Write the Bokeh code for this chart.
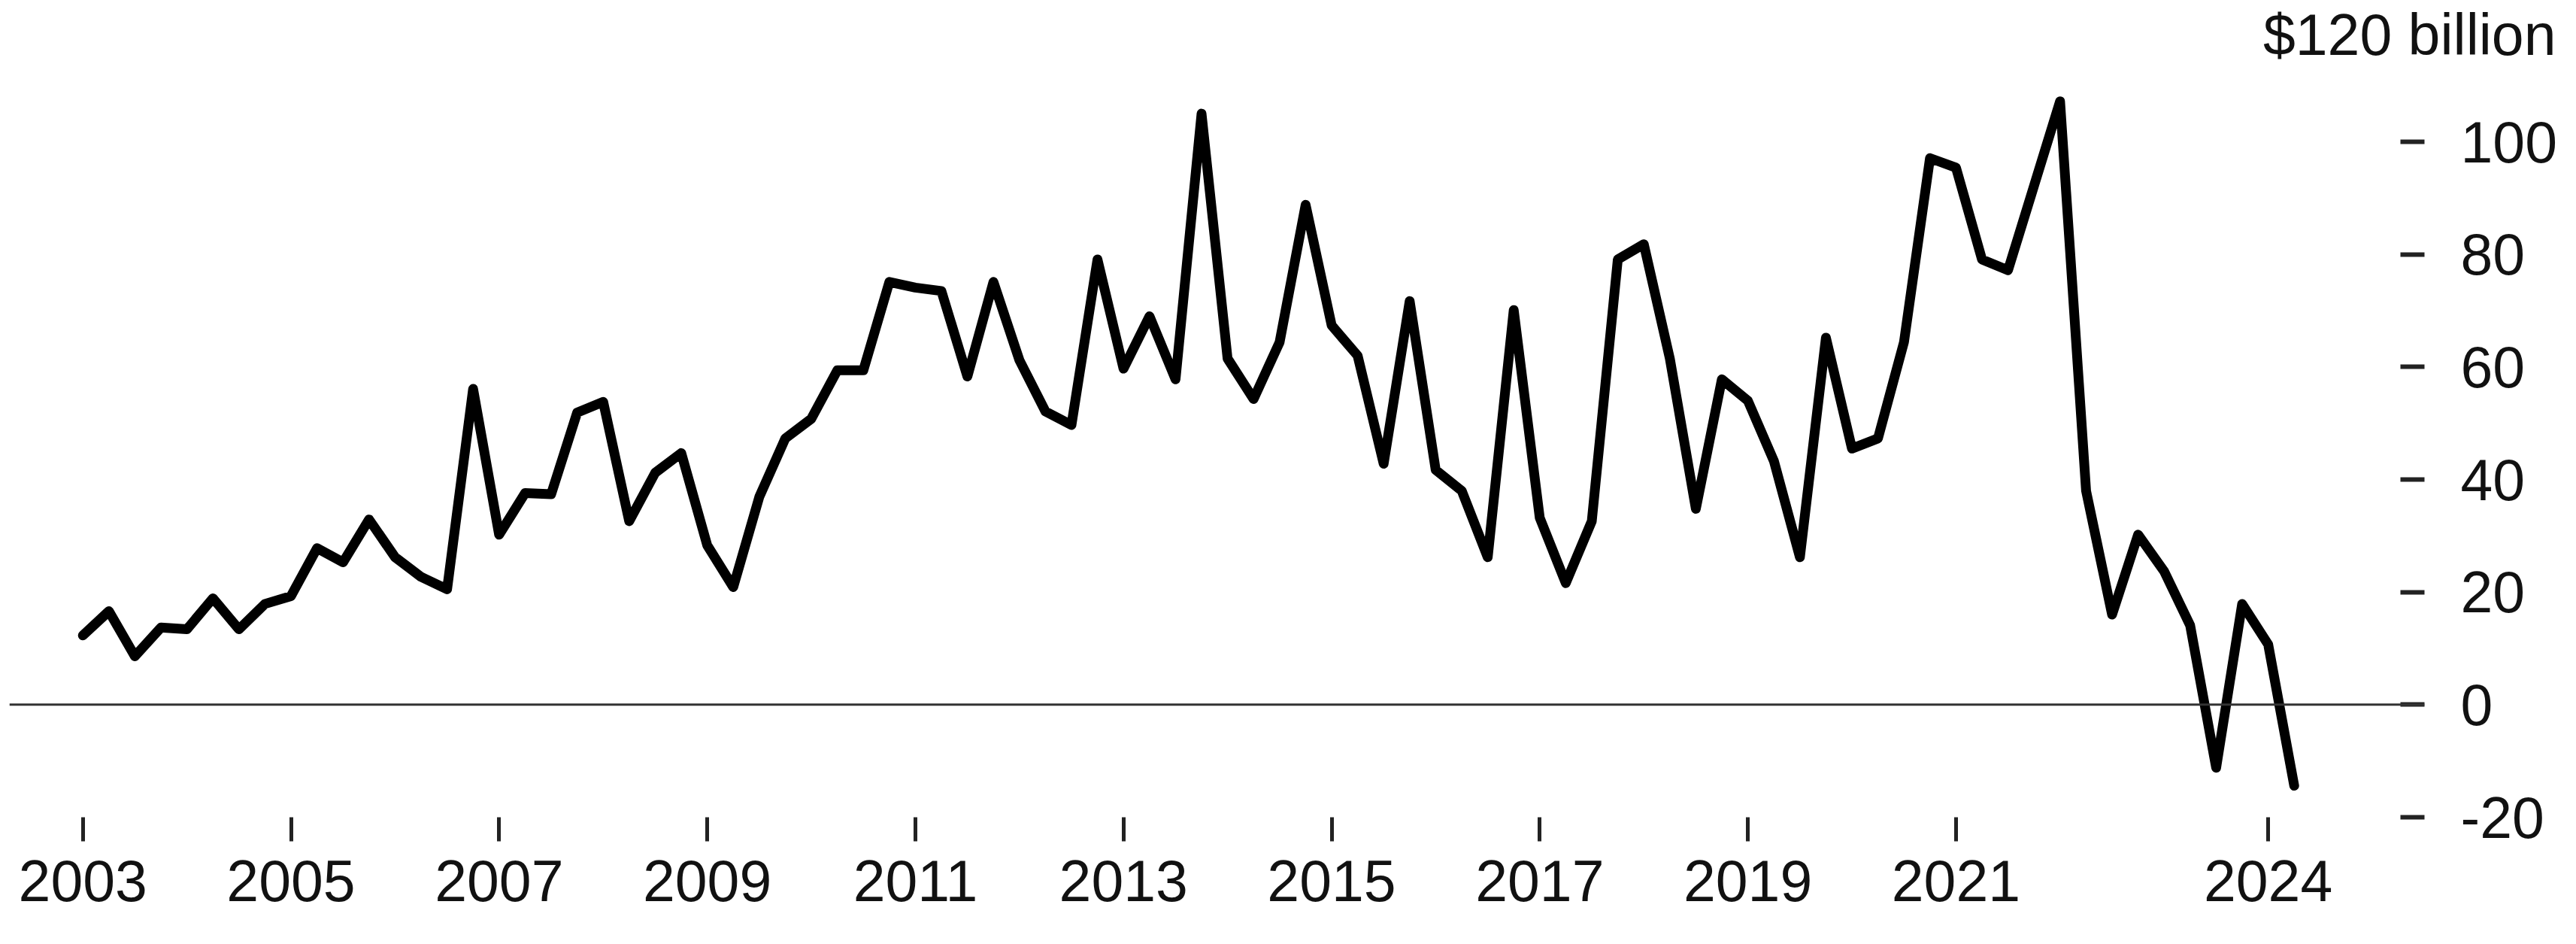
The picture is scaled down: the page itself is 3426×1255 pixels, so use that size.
from bokeh.plotting import figure
from bokeh.models import FixedTicker, Span
from bokeh.embed import file_html
from bokeh.resources import INLINE

# Quarterly values, $ billion, 2003 Q1 .. 2024 Q2
start_year = 2003
values = [
    12.3, 16.6, 8.6, 13.7,      # 2003
    13.4, 18.9, 13.4, 17.9,     # 2004
    19.3, 27.8, 25.3, 32.9,     # 2005
    26.2, 22.7, 20.5, 56.1,     # 2006
    30.2, 37.6, 37.4, 51.9,     # 2007
    53.8, 32.6, 41.2, 44.7,     # 2008
    28.3, 20.9, 36.9, 47.3,     # 2009
    50.8, 59.4, 59.4, 75.1,     # 2010
    74.1, 73.5, 58.3, 75.1,     # 2011
    61.2, 52.1, 49.7, 79.1,     # 2012
    59.7, 69.0, 57.8, 105.0,    # 2013
    61.5, 54.3, 64.4, 88.8,     # 2014
    67.4, 62.0, 42.8, 71.7,     # 2015
    41.7, 38.0, 26.2, 70.1,     # 2016
    33.2, 21.6, 32.6, 79.1,     # 2017
    81.8, 61.5, 34.8, 57.8,     # 2018
    54.0, 43.3, 26.2, 65.2,     # 2019
    45.5, 47.3, 64.4, 97.1,     # 2020
    95.4, 79.1, 77.2, 92.2,     # 2021
    107.2, 38.0, 16.0, 30.2,    # 2022
    23.7, 14.1, -11.2, 17.9,    # 2023
    10.7, -14.4,                # 2024
]
quarter_x = [start_year + i / 4 for i in range(len(values))]

x_tick_years = [2003, 2005, 2007, 2009, 2011, 2013, 2015, 2017, 2019, 2021, 2024]
x_tick_labels = ["2003", "2005", "2007", "2009", "2011", "2013", "2015", "2017", "2019", "2021", "2024"]
y_ticks = [-20, 0, 20, 40, 60, 80, 100]
y_tick_labels = ["-20", "0", "20", "40", "60", "80", "100"]
unit_label = "$120 billion"

FONT = "Liberation Sans"
FS = "77px"

p = figure(
    frame_width=3212, frame_height=996,
    x_range=(2002.294, 2025.502), y_range=(-20, 113.1),
    output_backend="svg", toolbar_location=None,
    min_border_left=12, min_border_top=90, min_border_right=186, min_border_bottom=130,
    y_axis_location="right", title=unit_label,
)
p.outline_line_color = None
p.xgrid.visible = False
p.ygrid.visible = False
p.background_fill_color = "white"
p.border_fill_color = "white"

p.title.align = "right"
p.title.offset = -175
p.title.vertical_align = "top"
p.title.standoff = 0
p.title.text_font = FONT
p.title.text_font_size = FS
p.title.text_font_style = "normal"
p.title.text_color = "#111111"

p.add_layout(Span(location=0, dimension="width", line_color="#333333", line_width=3))

p.line(quarter_x, values, line_width=13, line_color="black", line_join="round", line_cap="round")

xa = p.xaxis[0]
xa.ticker = FixedTicker(ticks=x_tick_years)
xa.major_label_overrides = dict(zip(x_tick_years, x_tick_labels))
xa.axis_line_color = None
xa.major_tick_out = 32
xa.major_tick_in = 0
xa.major_tick_line_width = 5
xa.major_tick_line_color = "#222222"
xa.minor_tick_line_color = None
xa.major_label_text_font = FONT
xa.major_label_text_font_size = FS
xa.major_label_text_color = "#111111"
xa.major_label_standoff = 25

ya = p.yaxis[0]
ya.ticker = FixedTicker(ticks=y_ticks)
ya.major_label_overrides = dict(zip(y_ticks, y_tick_labels))
ya.axis_line_color = None
ya.major_tick_in = 32
ya.major_tick_out = 0
ya.major_tick_line_width = 6
ya.major_tick_line_color = "#222222"
ya.minor_tick_line_color = None
ya.major_label_text_font = FONT
ya.major_label_text_font_size = FS
ya.major_label_text_color = "#111111"
ya.major_label_standoff = 48

open("out.html", "w").write(file_html(p, INLINE))
